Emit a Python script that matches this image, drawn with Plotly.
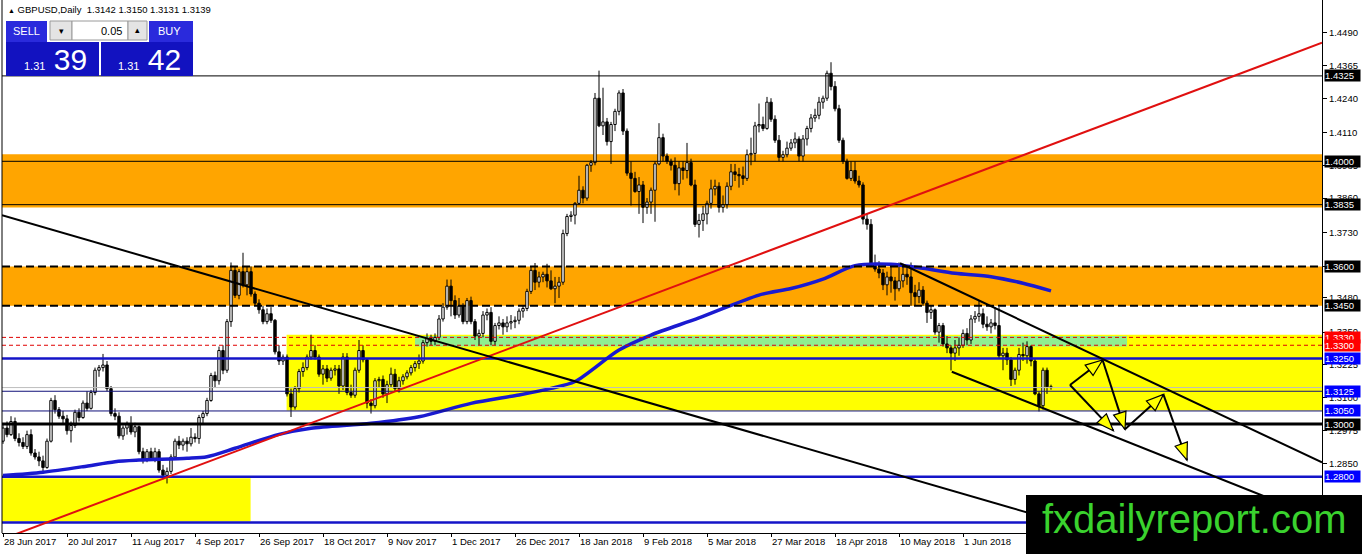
import math
import plotly.graph_objects as go

width = 1362
height = 554

# screen layout of the MT4 chart window
PLOT_LEFT, PLOT_RIGHT = 2, 1322
PLOT_TOP, PLOT_BOTTOM = 0, 533
X_RANGE = [-0.25, 329.75]
Y_RANGE = [1.25856, 1.46138]
FONT = "Liberation Sans, Arial, sans-serif"

# ---- data (daily bars, index 0 = 28 Jun 2017) ----
date_labels = ['28 Jun 2017', '20 Jul 2017', '11 Aug 2017', '4 Sep 2017', '26 Sep 2017',
               '18 Oct 2017', '9 Nov 2017', '1 Dec 2017', '26 Dec 2017', '18 Jan 2018',
               '9 Feb 2018', '5 Mar 2018', '27 Mar 2018', '18 Apr 2018', '10 May 2018',
               '1 Jun 2018']
date_label_bars = [0, 16, 32, 48, 64, 80, 96, 112, 128, 144, 160, 176, 192, 208, 224, 240]

bar_open = [
    1.2935, 1.2985, 1.2960, 1.3010, 1.2945, 1.2930, 1.2915, 1.2960, 1.2890, 1.2875,
    1.2860, 1.2835, 1.2935, 1.3090, 1.3055, 1.3030, 1.3020, 1.2975, 1.2995, 1.3045,
    1.3025, 1.3080, 1.3060, 1.3120, 1.3205, 1.3215, 1.3225, 1.3135, 1.3040, 1.3030,
    1.2955, 1.2985, 1.3000, 1.2970, 1.2990, 1.2895, 1.2865, 1.2895, 1.2870, 1.2895,
    1.2825, 1.2805, 1.2820, 1.2875, 1.2935, 1.2920, 1.2935, 1.2925, 1.2950, 1.2945,
    1.3025, 1.3040, 1.3090, 1.3185, 1.3165, 1.3280, 1.3205, 1.3390, 1.3585, 1.3490,
    1.3580, 1.3530, 1.3580, 1.3495, 1.3460, 1.3435, 1.3390, 1.3420, 1.3395, 1.3275,
    1.3240, 1.3255, 1.3115, 1.3065, 1.3135, 1.3200, 1.3215, 1.3255, 1.3280, 1.3255,
    1.3190, 1.3210, 1.3175, 1.3205, 1.3210, 1.3145, 1.3255, 1.3120, 1.3110, 1.3205,
    1.3280, 1.3245, 1.3080, 1.3070, 1.3165, 1.3170, 1.3115, 1.3150, 1.3190, 1.3135,
    1.3165, 1.3180, 1.3195, 1.3215, 1.3230, 1.3240, 1.3310, 1.3325, 1.3315, 1.3330,
    1.3400, 1.3445, 1.3525, 1.3470, 1.3415, 1.3450, 1.3390, 1.3470, 1.3390, 1.3335,
    1.3345, 1.3415, 1.3425, 1.3315, 1.3375, 1.3385, 1.3370, 1.3385, 1.3390, 1.3395,
    1.3430, 1.3440, 1.3505, 1.3585, 1.3540, 1.3560, 1.3570, 1.3545, 1.3515, 1.3525,
    1.3540, 1.3725, 1.3790, 1.3795, 1.3840, 1.3890, 1.3860, 1.3985, 1.3995, 1.4240,
    1.4135, 1.4150, 1.4075, 1.4140, 1.4190, 1.4260, 1.4115, 1.3955, 1.3935, 1.3885,
    1.3910, 1.3825, 1.3845, 1.3890, 1.3990, 1.4090, 1.4020, 1.4000, 1.3985, 1.3915,
    1.3975, 1.3965, 1.3995, 1.3910, 1.3760, 1.3775, 1.3800, 1.3840, 1.3895, 1.3905,
    1.3825, 1.3835, 1.3905, 1.3960, 1.3950, 1.3945, 1.3935, 1.4025, 1.4030, 1.4135,
    1.4140, 1.4125, 1.4225, 1.4160, 1.4080, 1.4015, 1.4025, 1.4050, 1.4070, 1.4085,
    1.4020, 1.4085, 1.4125, 1.4165, 1.4175, 1.4225, 1.4240, 1.4335, 1.4285, 1.4200,
    1.4080, 1.4000, 1.3935, 1.3965, 1.3925, 1.3910, 1.3780, 1.3760, 1.3605, 1.3590,
    1.3575, 1.3530, 1.3560, 1.3545, 1.3515, 1.3545, 1.3570, 1.3560, 1.3500, 1.3485,
    1.3510, 1.3460, 1.3425, 1.3435, 1.3350, 1.3375, 1.3305, 1.3290, 1.3270, 1.3290,
    1.3300, 1.3345, 1.3320, 1.3400, 1.3410, 1.3420, 1.3380, 1.3370, 1.3385, 1.3375,
    1.3260, 1.3270, 1.3245, 1.3170, 1.3205, 1.3265, 1.3260, 1.3295, 1.3240, 1.3115,
    1.3070, 1.3205, 1.3142,
]
bar_high = [
    1.2998, 1.3010, 1.3030, 1.3025, 1.2965, 1.2950, 1.2975, 1.2980, 1.2905, 1.2895,
    1.2880, 1.2945, 1.3100, 1.3110, 1.3065, 1.3050, 1.3035, 1.3010, 1.3055, 1.3060,
    1.3090, 1.3125, 1.3130, 1.3215, 1.3225, 1.3267, 1.3240, 1.3145, 1.3060, 1.3045,
    1.2995, 1.3010, 1.3030, 1.3005, 1.2995, 1.2910, 1.2905, 1.2910, 1.2910, 1.2905,
    1.2845, 1.2835, 1.2885, 1.2945, 1.2955, 1.2945, 1.2950, 1.2985, 1.2965, 1.3035,
    1.3050, 1.3100, 1.3195, 1.3200, 1.3295, 1.3300, 1.3400, 1.3615, 1.3600, 1.3590,
    1.3652, 1.3600, 1.3600, 1.3505, 1.3475, 1.3450, 1.3440, 1.3445, 1.3400, 1.3300,
    1.3265, 1.3265, 1.3135, 1.3145, 1.3210, 1.3235, 1.3265, 1.3340, 1.3300, 1.3265,
    1.3225, 1.3225, 1.3215, 1.3225, 1.3225, 1.3270, 1.3270, 1.3150, 1.3215, 1.3320,
    1.3300, 1.3250, 1.3095, 1.3175, 1.3180, 1.3185, 1.3165, 1.3215, 1.3210, 1.3180,
    1.3190, 1.3205, 1.3225, 1.3240, 1.3265, 1.3320, 1.3345, 1.3340, 1.3345, 1.3415,
    1.3460, 1.3550, 1.3550, 1.3490, 1.3480, 1.3460, 1.3480, 1.3485, 1.3400, 1.3360,
    1.3430, 1.3440, 1.3445, 1.3385, 1.3410, 1.3400, 1.3410, 1.3415, 1.3410, 1.3440,
    1.3450, 1.3515, 1.3600, 1.3613, 1.3580, 1.3580, 1.3610, 1.3585, 1.3560, 1.3560,
    1.3740, 1.3800, 1.3810, 1.3845, 1.3945, 1.3905, 1.3990, 1.4005, 1.4260, 1.4345,
    1.4280, 1.4165, 1.4150, 1.4200, 1.4270, 1.4275, 1.4125, 1.4000, 1.3960, 1.3940,
    1.3925, 1.3860, 1.3900, 1.4000, 1.4145, 1.4105, 1.4030, 1.4010, 1.4015, 1.4000,
    1.4000, 1.4070, 1.4010, 1.3930, 1.3800, 1.3830, 1.3850, 1.3930, 1.3930, 1.3920,
    1.3870, 1.3920, 1.3990, 1.3990, 1.3975, 1.3980, 1.4045, 1.4090, 1.4150, 1.4220,
    1.4170, 1.4245, 1.4240, 1.4175, 1.4100, 1.4040, 1.4075, 1.4085, 1.4110, 1.4095,
    1.4100, 1.4135, 1.4180, 1.4200, 1.4245, 1.4250, 1.4345, 1.4377, 1.4305, 1.4215,
    1.4090, 1.4010, 1.4000, 1.4000, 1.3945, 1.3920, 1.3800, 1.3780, 1.3645, 1.3620,
    1.3590, 1.3580, 1.3600, 1.3560, 1.3615, 1.3610, 1.3605, 1.3615, 1.3530, 1.3540,
    1.3525, 1.3470, 1.3450, 1.3440, 1.3385, 1.3385, 1.3335, 1.3300, 1.3320, 1.3330,
    1.3360, 1.3365, 1.3415, 1.3430, 1.3470, 1.3440, 1.3410, 1.3400, 1.3445, 1.3445,
    1.3290, 1.3290, 1.3255, 1.3215, 1.3290, 1.3310, 1.3315, 1.3300, 1.3250, 1.3125,
    1.3215, 1.3215, 1.3150,
]
bar_low = [
    1.2925, 1.2950, 1.2955, 1.2935, 1.2915, 1.2905, 1.2905, 1.2880, 1.2865, 1.2840,
    1.2815, 1.2830, 1.2930, 1.3040, 1.3020, 1.3000, 1.2960, 1.2930, 1.2985, 1.3010,
    1.3020, 1.3050, 1.3055, 1.3110, 1.3180, 1.3200, 1.3125, 1.3030, 1.3015, 1.2945,
    1.2940, 1.2960, 1.2960, 1.2950, 1.2885, 1.2850, 1.2855, 1.2860, 1.2855, 1.2815,
    1.2790, 1.2774, 1.2810, 1.2870, 1.2905, 1.2900, 1.2895, 1.2915, 1.2930, 1.2925,
    1.3000, 1.3030, 1.3085, 1.3140, 1.3150, 1.3190, 1.3195, 1.3370, 1.3480, 1.3475,
    1.3520, 1.3490, 1.3485, 1.3450, 1.3420, 1.3380, 1.3380, 1.3385, 1.3265, 1.3225,
    1.3225, 1.3105, 1.3027, 1.3055, 1.3120, 1.3180, 1.3205, 1.3245, 1.3245, 1.3180,
    1.3150, 1.3160, 1.3165, 1.3185, 1.3115, 1.3130, 1.3110, 1.3100, 1.3100, 1.3195,
    1.3235, 1.3060, 1.3040, 1.3060, 1.3140, 1.3100, 1.3080, 1.3140, 1.3125, 1.3120,
    1.3150, 1.3170, 1.3185, 1.3200, 1.3210, 1.3230, 1.3295, 1.3300, 1.3300, 1.3320,
    1.3390, 1.3435, 1.3410, 1.3400, 1.3405, 1.3380, 1.3380, 1.3380, 1.3320, 1.3300,
    1.3330, 1.3395, 1.3300, 1.3300, 1.3360, 1.3340, 1.3350, 1.3360, 1.3365, 1.3380,
    1.3405, 1.3430, 1.3495, 1.3510, 1.3520, 1.3540, 1.3520, 1.3510, 1.3460, 1.3480,
    1.3530, 1.3715, 1.3770, 1.3760, 1.3835, 1.3840, 1.3850, 1.3960, 1.3985, 1.4130,
    1.4100, 1.4060, 1.3990, 1.4115, 1.4175, 1.4100, 1.3945, 1.3832, 1.3880, 1.3800,
    1.3765, 1.3800, 1.3800, 1.3770, 1.3985, 1.4000, 1.3990, 1.3965, 1.3890, 1.3870,
    1.3930, 1.3935, 1.3905, 1.3750, 1.3710, 1.3735, 1.3760, 1.3820, 1.3870, 1.3805,
    1.3805, 1.3820, 1.3890, 1.3925, 1.3900, 1.3910, 1.3925, 1.3985, 1.4000, 1.4110,
    1.4115, 1.4120, 1.4150, 1.4070, 1.4000, 1.4000, 1.4015, 1.4040, 1.4050, 1.4000,
    1.4000, 1.4060, 1.4110, 1.4150, 1.4160, 1.4200, 1.4230, 1.4270, 1.4190, 1.4070,
    1.3990, 1.3930, 1.3925, 1.3915, 1.3900, 1.3760, 1.3740, 1.3600, 1.3580, 1.3555,
    1.3510, 1.3490, 1.3500, 1.3470, 1.3505, 1.3520, 1.3530, 1.3450, 1.3450, 1.3460,
    1.3450, 1.3385, 1.3400, 1.3340, 1.3310, 1.3295, 1.3270, 1.3204, 1.3240, 1.3260,
    1.3290, 1.3300, 1.3305, 1.3385, 1.3390, 1.3365, 1.3355, 1.3345, 1.3360, 1.3250,
    1.3205, 1.3225, 1.3145, 1.3150, 1.3185, 1.3240, 1.3230, 1.3220, 1.3110, 1.3048,
    1.3055, 1.3115, 1.3131,
]
bar_close = [
    1.2985, 1.2960, 1.3010, 1.2945, 1.2930, 1.2915, 1.2960, 1.2890, 1.2875, 1.2860,
    1.2835, 1.2935, 1.3090, 1.3055, 1.3030, 1.3020, 1.2975, 1.2995, 1.3045, 1.3025,
    1.3080, 1.3060, 1.3120, 1.3205, 1.3215, 1.3225, 1.3135, 1.3040, 1.3030, 1.2955,
    1.2985, 1.3000, 1.2970, 1.2990, 1.2895, 1.2865, 1.2895, 1.2870, 1.2895, 1.2825,
    1.2805, 1.2820, 1.2875, 1.2935, 1.2920, 1.2935, 1.2925, 1.2950, 1.2945, 1.3025,
    1.3040, 1.3090, 1.3185, 1.3165, 1.3280, 1.3205, 1.3390, 1.3585, 1.3490, 1.3580,
    1.3530, 1.3580, 1.3495, 1.3460, 1.3435, 1.3390, 1.3420, 1.3395, 1.3275, 1.3240,
    1.3255, 1.3115, 1.3065, 1.3135, 1.3200, 1.3215, 1.3255, 1.3280, 1.3255, 1.3190,
    1.3210, 1.3175, 1.3205, 1.3210, 1.3145, 1.3255, 1.3120, 1.3110, 1.3205, 1.3280,
    1.3245, 1.3080, 1.3070, 1.3165, 1.3170, 1.3115, 1.3150, 1.3190, 1.3135, 1.3165,
    1.3180, 1.3195, 1.3215, 1.3230, 1.3240, 1.3310, 1.3325, 1.3315, 1.3330, 1.3400,
    1.3445, 1.3525, 1.3470, 1.3415, 1.3450, 1.3390, 1.3470, 1.3390, 1.3335, 1.3345,
    1.3415, 1.3425, 1.3315, 1.3375, 1.3385, 1.3370, 1.3385, 1.3390, 1.3395, 1.3430,
    1.3440, 1.3505, 1.3585, 1.3540, 1.3560, 1.3570, 1.3545, 1.3515, 1.3525, 1.3540,
    1.3725, 1.3790, 1.3795, 1.3840, 1.3890, 1.3860, 1.3985, 1.3995, 1.4240, 1.4135,
    1.4150, 1.4075, 1.4140, 1.4190, 1.4260, 1.4115, 1.3955, 1.3935, 1.3885, 1.3910,
    1.3825, 1.3845, 1.3890, 1.3990, 1.4090, 1.4020, 1.4000, 1.3985, 1.3915, 1.3975,
    1.3965, 1.3995, 1.3910, 1.3760, 1.3775, 1.3800, 1.3840, 1.3895, 1.3905, 1.3825,
    1.3835, 1.3905, 1.3960, 1.3950, 1.3945, 1.3935, 1.4025, 1.4030, 1.4135, 1.4140,
    1.4125, 1.4225, 1.4160, 1.4080, 1.4015, 1.4025, 1.4050, 1.4070, 1.4085, 1.4020,
    1.4085, 1.4125, 1.4165, 1.4175, 1.4225, 1.4240, 1.4335, 1.4285, 1.4200, 1.4080,
    1.4000, 1.3935, 1.3965, 1.3925, 1.3910, 1.3780, 1.3760, 1.3605, 1.3590, 1.3575,
    1.3530, 1.3560, 1.3545, 1.3515, 1.3545, 1.3570, 1.3560, 1.3500, 1.3485, 1.3510,
    1.3460, 1.3425, 1.3435, 1.3350, 1.3375, 1.3305, 1.3290, 1.3270, 1.3290, 1.3300,
    1.3345, 1.3320, 1.3400, 1.3410, 1.3420, 1.3380, 1.3370, 1.3385, 1.3375, 1.3260,
    1.3270, 1.3245, 1.3170, 1.3205, 1.3265, 1.3260, 1.3295, 1.3240, 1.3115, 1.3070,
    1.3205, 1.3142, 1.3139,
]

# blue moving average, sampled along the drawn line
ma_bars = [0, 10, 20, 28, 34, 46, 51, 58, 69, 77, 92, 104, 117, 129, 137, 143, 154,
           162, 174, 189, 197, 205, 213, 222, 230, 238, 247, 255, 262]
ma_values = [1.2804, 1.2817, 1.2838, 1.2857, 1.2863, 1.2870, 1.2876, 1.2908, 1.2961,
             1.2984, 1.3003, 1.3028, 1.3079, 1.3111, 1.3136, 1.3162, 1.3282, 1.3339,
             1.3404, 1.3491, 1.3516, 1.3552, 1.3603, 1.3608, 1.3593, 1.3574, 1.3561,
             1.3536, 1.3507]

# right-axis price scale
price_ticks = [1.4490, 1.4365, 1.4240, 1.4110, 1.3985, 1.3860, 1.3730, 1.3600,
               1.3480, 1.3350, 1.3225, 1.3100, 1.2975, 1.2850, 1.2720]

# horizontal level lines: (price, colour, width, dash)
level_prices = [1.4325, 1.4000, 1.3835, 1.3600, 1.3450, 1.3330, 1.3300, 1.3250,
                1.3139, 1.3125, 1.3050, 1.3000, 1.2800, 1.2626]
level_colors = ['black', 'black', 'black', 'black', 'black', '#E00000', '#E00000', '#1414C8',
                '#BDBDBD', '#10107A', '#10107A', 'black', '#1414C8', '#1414C8']
level_widths = [1, 1, 1, 2, 2, 1, 1, 2.5, 1, 1, 1, 3, 2.5, 2.5]
level_dashes = ['solid', 'solid', 'solid', '8px,4px', '8px,4px', '4px,3px', '4px,3px',
                'solid', 'solid', 'solid', 'solid', 'solid', 'solid', 'solid']

# boxed price labels on the right scale
tag_prices = [1.4325, 1.4000, 1.3835, 1.3600, 1.3450, 1.3330, 1.3300, 1.3250,
              1.3125, 1.3050, 1.3000, 1.2800]
tag_colors = ['black', 'black', 'black', 'black', 'black', '#FF0000', '#FF0000',
              '#0000FF', '#0000FF', '#0000FF', 'black', '#0000FF']

# zones: (bar from, bar to, price low, price high, colour)
zone_bar0 = [None, None, 70.9, 103.0, -0.25]
zone_bar1 = [None, None, 400.0, 281.0, 61.9]
zone_low = [1.3824, 1.3450, 1.3052, 1.3295, 1.2629]
zone_high = [1.4027, 1.3600, 1.3340, 1.3335, 1.2794]
zone_colors = ['#FFA500', '#FFA500', '#FFFF00', '#90EE90', '#FFFF00']

# trend lines as (bar, price) anchor pairs
trend_a = [(0.0, 1.2563), (-0.25, 1.3795), (224.25, 1.3612), (237.2, 1.3199)]
trend_b = [(329.75, 1.4451), (273.65, 1.2586), (329.75, 1.2854), (329.75, 1.2638)]
trend_colors = ['#E01010', 'black', 'black', 'black']

# projected zig-zag arrows
arrow_start = [(266.75, 1.3149), (266.75, 1.3149), (274.9, 1.3244), (280.5, 1.2980), (290.1, 1.3113)]
arrow_end = [(274.9, 1.3244), (277.6, 1.2975), (280.5, 1.2980), (290.1, 1.3113), (296.0, 1.2863)]


def to_px(i, p):
    x = PLOT_LEFT + (i - X_RANGE[0]) / (X_RANGE[1] - X_RANGE[0]) * (PLOT_RIGHT - PLOT_LEFT)
    y = PLOT_TOP + (Y_RANGE[1] - p) / (Y_RANGE[1] - Y_RANGE[0]) * (PLOT_BOTTOM - PLOT_TOP)
    return x, y


def to_data(x, y):
    i = X_RANGE[0] + (x - PLOT_LEFT) / (PLOT_RIGHT - PLOT_LEFT) * (X_RANGE[1] - X_RANGE[0])
    p = Y_RANGE[1] - (y - PLOT_TOP) / (PLOT_BOTTOM - PLOT_TOP) * (Y_RANGE[1] - Y_RANGE[0])
    return i, p


def paper(x, y):
    return (x - PLOT_LEFT) / (PLOT_RIGHT - PLOT_LEFT), 1 - (y - PLOT_TOP) / (PLOT_BOTTOM - PLOT_TOP)


def head_path(start, end, length=17, half=6.5):
    x0, y0 = to_px(*start)
    x1, y1 = to_px(*end)
    n = math.hypot(x1 - x0, y1 - y0)
    ux, uy = (x1 - x0) / n, (y1 - y0) / n
    bx, by = x1 - ux * length, y1 - uy * length
    pts = [to_data(x1, y1), to_data(bx - uy * half, by + ux * half), to_data(bx + uy * half, by - ux * half)]
    return "M {:.4f} {:.6f} L {:.4f} {:.6f} L {:.4f} {:.6f} Z".format(*[v for pt in pts for v in pt])


fig = go.Figure()

# candle wicks, drawn only outside the bodies
wick_x, wick_y = [], []
for i in range(len(bar_close)):
    top = max(bar_open[i], bar_close[i])
    bot = min(bar_open[i], bar_close[i])
    wick_x += [i, i, None, i, i, None]
    wick_y += [top, bar_high[i], None, bar_low[i], bot, None]

up = [i for i in range(len(bar_close)) if bar_close[i] >= bar_open[i]]
down = [i for i in range(len(bar_close)) if bar_close[i] < bar_open[i]]

fig.add_trace(go.Bar(
    x=up, base=[bar_open[i] for i in up], y=[max(bar_close[i] - bar_open[i], 0.00005) for i in up],
    width=0.6, marker=dict(color='white', line=dict(color='black', width=1)), hoverinfo='skip'
))
fig.add_trace(go.Bar(
    x=down, base=[bar_close[i] for i in down], y=[bar_open[i] - bar_close[i] for i in down],
    width=0.6, marker=dict(color='black', line=dict(color='black', width=1)), hoverinfo='skip'
))
fig.add_trace(go.Scatter(x=wick_x, y=wick_y, mode='lines', line=dict(color='black', width=1),
                         hoverinfo='skip'))
fig.add_trace(go.Scatter(x=ma_bars, y=ma_values, mode='lines',
                         line=dict(color='#1A1AD0', width=3.5, shape='spline', smoothing=0.8),
                         hoverinfo='skip'))

shapes = []
# zones behind the candles
for b0, b1, lo, hi, col in zip(zone_bar0, zone_bar1, zone_low, zone_high, zone_colors):
    if b0 is None:
        shapes.append(dict(type='rect', xref='paper', x0=0, x1=1, yref='y', y0=lo, y1=hi,
                           fillcolor=col, line=dict(width=0), layer='below'))
    else:
        shapes.append(dict(type='rect', xref='x', x0=b0, x1=b1, yref='y', y0=lo, y1=hi,
                           fillcolor=col, line=dict(width=0), layer='below'))

for p, col, w, d in zip(level_prices, level_colors, level_widths, level_dashes):
    shapes.append(dict(type='line', xref='paper', x0=0, x1=1, yref='y', y0=p, y1=p,
                       line=dict(color=col, width=w, dash=d)))

for a, b, col in zip(trend_a, trend_b, trend_colors):
    shapes.append(dict(type='line', xref='x', yref='y', x0=a[0], y0=a[1], x1=b[0], y1=b[1],
                       line=dict(color=col, width=2)))

for s, e in zip(arrow_start, arrow_end):
    shapes.append(dict(type='line', xref='x', yref='y', x0=s[0], y0=s[1], x1=e[0], y1=e[1],
                       line=dict(color='black', width=2)))
    shapes.append(dict(type='path', xref='x', yref='y', path=head_path(s, e),
                       fillcolor='#FFFF00', line=dict(color='black', width=1.2)))

# left window border
shapes.append(dict(type='line', xref='paper', yref='paper', x0=0, x1=0, y0=0, y1=1,
                   line=dict(color='black', width=1)))


def px_rect(x0, y0, x1, y1, fill, line_color=None):
    a = paper(x0, y0)
    b = paper(x1, y1)
    return dict(type='rect', xref='paper', yref='paper', x0=a[0], y0=a[1], x1=b[0], y1=b[1],
                fillcolor=fill, line=dict(color=line_color or fill, width=1 if line_color else 0))


# one-click trading panel and the watermark plate
shapes += [
    px_rect(6, 21, 47, 42, '#2A2ADC'),
    px_rect(149, 21, 193, 42, '#2A2ADC'),
    px_rect(6, 42, 99, 76, '#1212C0'),
    px_rect(101, 42, 193, 76, '#1212C0'),
    px_rect(50, 21, 72, 40, '#E4E4E4', '#9A9A9A'),
    px_rect(72, 21, 128, 40, 'white', '#9A9A9A'),
    px_rect(128, 21, 147, 40, '#E4E4E4', '#9A9A9A'),
    px_rect(1026, 495, 1366, 558, 'black'),
]

annotations = []
for p, col in zip(tag_prices, tag_colors):
    annotations.append(dict(xref='paper', x=1, xanchor='left', xshift=2, yref='y', y=p,
                            text='{:.4f}'.format(p), showarrow=False, bgcolor=col, width=35, height=11,
                            align='left', borderpad=0, font=dict(family=FONT, size=9.5, color='white')))


def px_text(x, y, text, size, color='black', xanchor='center'):
    px, py = paper(x, y)
    return dict(xref='paper', yref='paper', x=px, y=py, xanchor=xanchor, yanchor='middle', text=text,
                showarrow=False, font=dict(family=FONT, size=size, color=color))


annotations += [
    px_text(6, 10, "<span style='font-size:7px'>▲</span> GBPUSD,Daily  1.3142 1.3150 1.3131 1.3139",
            9.5, xanchor='left'),
    px_text(26.5, 31, 'SELL', 11, 'white'),
    px_text(170, 31, 'BUY', 11, 'white'),
    px_text(124, 31, '0.05', 11, xanchor='right'),
    px_text(61, 31, '▾', 9),
    px_text(137.5, 30, '▴', 9),
    px_text(55, 60, "1.31<span style='font-size:30px'> 39</span>", 11, 'white'),
    px_text(149, 60, "1.31<span style='font-size:30px'> 42</span>", 11, 'white'),
    px_text(1194, 519, 'fxdailyreport.com', 40, '#3AD22E'),
]

fig.update_layout(
    width=width,
    height=height,
    autosize=False,
    margin=dict(l=PLOT_LEFT, r=width - PLOT_RIGHT, t=PLOT_TOP, b=height - PLOT_BOTTOM, pad=0),
    paper_bgcolor='white',
    plot_bgcolor='white',
    barmode='overlay',
    showlegend=False,
    hovermode=False,
    shapes=shapes,
    annotations=annotations,
    xaxis=dict(
        range=X_RANGE,
        tickmode='array',
        tickvals=date_label_bars,
        ticktext=date_labels,
        ticklabelposition='outside right',
        ticks='outside',
        ticklen=3,
        tickcolor='black',
        showline=True,
        linecolor='black',
        linewidth=1,
        showgrid=False,
        zeroline=False,
        tickfont=dict(family=FONT, size=9.5, color='black'),
    ),
    yaxis=dict(
        range=Y_RANGE,
        side='right',
        tickmode='array',
        tickvals=price_ticks,
        tickformat='.4f',
        ticks='outside',
        ticklen=4,
        tickcolor='black',
        showline=True,
        linecolor='black',
        linewidth=1,
        showgrid=False,
        zeroline=False,
        tickfont=dict(family=FONT, size=9.5, color='black'),
    ),
)

fig.write_html("out.html", config={'displayModeBar': False},
               post_script="document.body.style.margin='0';")
